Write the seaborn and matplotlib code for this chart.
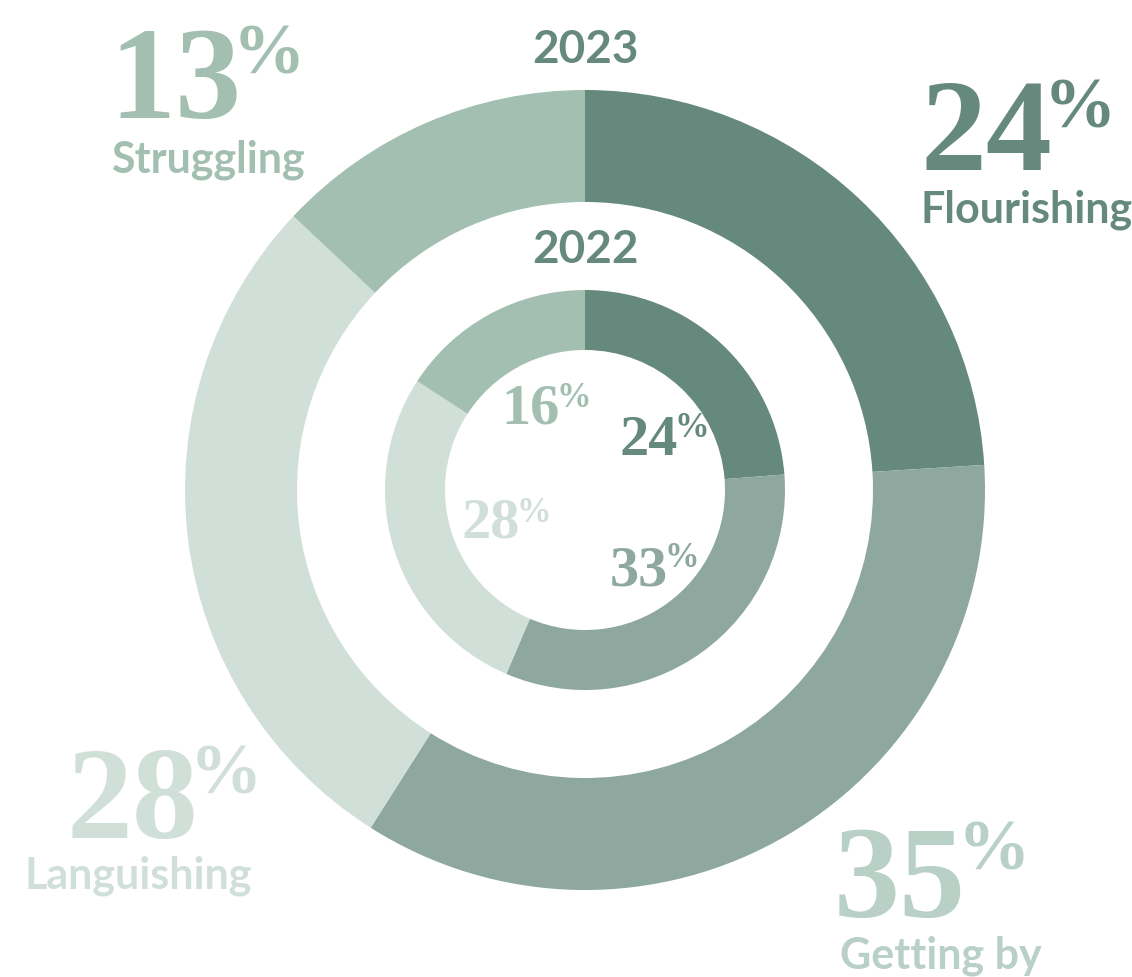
import matplotlib
matplotlib.use("Agg")
import matplotlib.pyplot as plt
import seaborn as sns

sns.set_theme(style="white")
plt.rcParams["font.family"] = ["Lato", "DejaVu Sans"]

# Wellbeing shares by year
categories = ["Flourishing", "Getting by", "Languishing", "Struggling"]
values_2023 = [24, 35, 28, 13]
values_2022 = [24, 33, 28, 16]

slice_colors = ["#66897d", "#8ea89f", "#d0dfd8", "#a3bfb1"]
outer_label_colors = ["#66897d", "#b8d0c5", "#d0dfd8", "#a3bfb1"]
inner_label_colors = ["#66897d", "#8ea89f", "#d0dfd8", "#a3bfb1"]

W, H = 1132, 977
fig = plt.figure(figsize=(W / 100, H / 100), dpi=100)
ax = fig.add_axes([0, 0, 1, 1])

def py(y):
    """Convert a top-down pixel row to the axis' y-up coordinate."""
    return H - y

center = (585, py(490))
ax.pie(values_2023, radius=400, center=center, startangle=90, counterclock=False,
       colors=slice_colors, wedgeprops=dict(width=112, edgecolor="none", linewidth=0))
ax.pie(values_2022, radius=200, center=center, startangle=90, counterclock=False,
       colors=slice_colors, wedgeprops=dict(width=60, edgecolor="none", linewidth=0))

ax.set_xlim(0, W)
ax.set_ylim(0, H)
ax.set_aspect("equal")
ax.axis("off")

serif = ["Liberation Serif", "DejaVu Serif"]

def pct(x_split, baseline, top, value, color, size, pct_size, gap):
    ax.text(x_split, py(baseline), f"{value}", ha="right", va="baseline",
            fontsize=size, fontweight="bold", family=serif, color=color)
    ax.text(x_split - gap, py(top), "%", ha="left", va="top",
            fontsize=pct_size, fontweight="bold", family=serif, color=color)

# Outer ring (2023) callouts
outer_layout = {
    "Flourishing": dict(split=1052, base=170, top=78, lx=920, lbase=222, ha="left"),
    "Getting by": dict(split=966, base=917, top=820, lx=840, lbase=968, ha="left"),
    "Languishing": dict(split=198, base=838, top=743, lx=25, lbase=888, ha="left"),
    "Struggling": dict(split=241, base=118, top=23, lx=305, lbase=172, ha="right"),
}
for cat, val, col in zip(categories, values_2023, outer_label_colors):
    L = outer_layout[cat]
    pct(L["split"], L["base"], L["top"], val, col, 95, 52, 8)
    ax.text(L["lx"], py(L["lbase"]), cat, ha=L["ha"], va="baseline",
            fontsize=31, fontweight="bold", color=col)

# Inner ring (2022) values
inner_layout = {
    "Flourishing": dict(split=678, base=455, top=412),
    "Getting by": dict(split=668, base=585, top=542),
    "Languishing": dict(split=520, base=538, top=497),
    "Struggling": dict(split=560, base=423, top=382),
}
for cat, val, col in zip(categories, values_2022, inner_label_colors):
    L = inner_layout[cat]
    pct(L["split"], L["base"], L["top"], val, col, 42, 25, 4)

# Year titles
ax.text(585, py(63), "2023", ha="center", va="baseline", fontsize=33,
        fontweight="bold", color="#66897d")
ax.text(585, py(263), "2022", ha="center", va="baseline", fontsize=33,
        fontweight="bold", color="#66897d")

fig.savefig("out.png", dpi=100, facecolor="white")
